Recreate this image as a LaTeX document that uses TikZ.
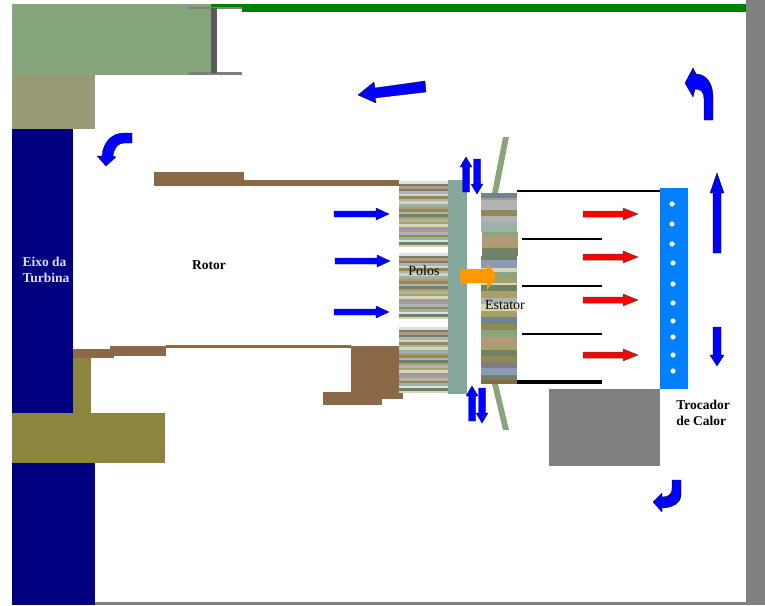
\documentclass[tikz,border=0pt]{standalone}
\usepackage{fontspec}
\setmainfont{Liberation Serif}
\usepackage{xcolor}
\usepackage{tikz}
\definecolor{salasage}{RGB}{133,165,125}
\definecolor{salakhaki}{RGB}{154,154,120}
\definecolor{eixonavy}{RGB}{0,0,128}
\definecolor{mancal}{RGB}{139,133,63}
\definecolor{rotorbrown}{RGB}{139,104,70}
\definecolor{coroa}{RGB}{134,168,156}
\definecolor{trocblue}{RGB}{0,128,255}
\definecolor{carcaca}{RGB}{128,128,128}
\definecolor{aletagreen}{RGB}{138,165,124}
\definecolor{flowblue}{RGB}{0,0,255}
\definecolor{hotred}{RGB}{255,0,0}
\definecolor{fluxo}{RGB}{255,153,0}
\definecolor{sdark}{RGB}{112,130,100}
\definecolor{sgrey}{RGB}{176,178,180}
\definecolor{scream}{RGB}{216,212,184}
\definecolor{solive}{RGB}{142,138,86}
\definecolor{stan}{RGB}{180,152,122}
\definecolor{sslate}{RGB}{112,130,150}
\definecolor{slight}{RGB}{222,226,220}
\definecolor{sblue}{RGB}{138,154,184}
\definecolor{skhaki}{RGB}{168,160,104}
\definecolor{steal}{RGB}{154,178,168}
\definecolor{sgreen}{RGB}{138,166,122}
\tikzset{
  flowarrow/.style={fill=flowblue,draw=black,line width=0.3pt},
  smallflow/.style={fill=flowblue,draw=flowblue!70!black,line width=0.4pt},
  hotarrow/.style={fill=hotred,draw=black!70,line width=0.5pt},
  serifbold/.style={font=\fontsize{13.5}{16.5}\selectfont\bfseries,inner sep=0pt,align=left},
  serifplain/.style={font=\fontsize{14}{16}\selectfont,inner sep=0pt}
}
\begin{document}
\begin{tikzpicture}[x=1pt,y=-1pt]
\useasboundingbox (0,0) rectangle (765,605);
% carcaca
\fill[carcaca] (746,0) rectangle (765,605);
\fill[carcaca] (95,602) rectangle (746,605);
\fill[green!50!black] (188,4) rectangle (242,7);
\fill[green!50!black] (242,4) rectangle (746,12);
\fill[salasage] (12,4) rectangle (211,75);
\fill[salakhaki] (12,75) rectangle (95,129);
\fill[carcaca] (188,7) rectangle (242,9);
\fill[carcaca] (188,72) rectangle (242,75);
\fill[carcaca!70!black] (211,8) rectangle (217,73);
% eixo e mancal
\fill[eixonavy] (12,129) rectangle (73,413);
\fill[mancal] (73,358) rectangle (91,413);
\fill[mancal] (12,413) rectangle (165,463);
\fill[eixonavy] (12,463) rectangle (95,605);
% rotor
\fill[rotorbrown] (154,172) rectangle (244,186);
\fill[rotorbrown] (244,180) rectangle (399,186);
\fill[rotorbrown] (73,349) rectangle (114,358);
\fill[rotorbrown] (110,346) rectangle (166,356);
\fill[rotorbrown] (166,345) rectangle (351,348);
\fill[rotorbrown] (351,346) rectangle (399,392);
\fill[rotorbrown] (323,392) rectangle (382,405);
\fill[rotorbrown] (382,392) rectangle (403,399);
% polos
\foreach \by in {181,253,327}
  \foreach \c [count=\i from 0] in {slight,sdark,stan,sdark,sgrey,scream,solive,sgrey,scream,steal,stan,solive,sgrey,sdark,stan,sgrey,skhaki,scream,sblue,stan,sgrey,solive,steal,slight,sdark,scream}
    \fill[\c] (399,{\by+\i*2.55}) rectangle (449,{\by+(\i+1)*2.55});
\fill[coroa] (448,180) rectangle (467,394);
% aletas
\fill[aletagreen] (503,137) -- (509,137) -- (498,193) -- (492,193) -- cycle;
\fill[aletagreen] (492,384) -- (498,384) -- (509,430) -- (503,430) -- cycle;
% estator
\foreach \a/\b/\c in {193/198/sslate,198/200/stan,200/210/sgrey,210/216/solive,216/222/sgrey,222/232/steal,256/260/sdark,260/268/sblue,268/272/scream,272/279/sgreen,279/283/skhaki,283/285/scream,285/291/sdark,291/298/skhaki,298/304/sgrey,304/311/scream,311/317/skhaki,317/324/sslate,324/330/solive,330/337/sgreen,337/344/stan,344/350/skhaki,350/356/sdark,356/362/solive,362/368/sgrey!70!black,368/375/sblue,375/380/sdark,380/384/rotorbrown}
  \fill[\c] (481,\a) rectangle (517,\b);
\foreach \a/\b/\c in {232/236/sgreen,236/243/stan,243/248/skhaki,248/256/sdark}
  \fill[\c] (482,\a) rectangle (518,\b);
% barras
\draw[line width=2pt] (517,191) -- (660,191);
\draw[line width=2pt] (522,239) -- (602,239);
\draw[line width=1.5pt] (522,286) -- (602,286);
\draw[line width=2pt] (522,334) -- (602,334);
\draw[line width=3.6pt] (517,382) -- (602,382);
% trocador
\fill[carcaca] (549,389) rectangle (660,466);
\fill[trocblue] (660,188) rectangle (688,389);
\foreach \x/\y in {672/204,672/224,672/244,673/263,673/284,673/303,673/321,673/337,673/355,673/371}
  \fill[white] (\x,\y) circle (2.6);
% setas
\foreach \x/\y in {334/214,335/261,334/312}
  \draw[smallflow] (\x,\y-3) -- ++(42,0) -- ++(0,-3) -- ++(13,6) -- ++(-13,6) -- ++(0,-3) -- ++(-42,0) -- cycle;
\foreach \y in {214,257,300,355}
  \draw[hotarrow] (583,\y-3) -- ++(40,0) -- ++(0,-3) -- ++(15,6) -- ++(-15,6) -- ++(0,-3) -- ++(-40,0) -- cycle;
% setas pequenas verticais
\foreach \x/\y in {466/192,472/421}
  \draw[smallflow] (\x-3.5,\y) -- ++(0,-25) -- ++(-2.5,0) -- ++(6,-10) -- ++(6,10) -- ++(-2.5,0) -- ++(0,25) -- cycle;
\foreach \x/\y in {477/159,482/388}
  \draw[smallflow] (\x-3.5,\y) -- ++(0,25) -- ++(-2.5,0) -- ++(6,10) -- ++(6,-10) -- ++(-2.5,0) -- ++(0,-25) -- cycle;
\fill[fluxo] (460,269) -- (487,269) -- (487,263) -- (497,276) -- (487,290) -- (487,283) -- (460,283) -- cycle;
\draw[flowarrow] (713,253) -- (713,193) -- (710,193) -- (717,173) -- (724,193) -- (721,193) -- (721,253) -- cycle;
\draw[flowarrow] (713,327) -- (721,327) -- (721,355) -- (724,355) -- (717,366) -- (710,355) -- (713,355) -- cycle;
\draw[flowarrow] (425,81) -- (426,92) -- (375,98) -- (376,103) -- (358,95) -- (374,82) -- (375,88) -- cycle;
% setas curvas
\draw[flowarrow] (704,120) -- (713,120) -- (713,97) .. controls (713,82) and (705,74) .. (696,74) -- (693,68) -- (685,83) -- (693,97) -- (695,89) .. controls (701,89) and (704,92) .. (704,99) -- cycle;
\draw[flowarrow] (132,133) -- (132,143) -- (124,143) .. controls (118,143) and (114,148) .. (113,156) -- (116,157) -- (106,166) -- (97,156) -- (102,156) .. controls (103,142) and (112,133) .. (124,133) -- cycle;
\draw[flowarrow] (672,480) -- (681,480) -- (681,495) .. controls (681,503) and (672,508) .. (662,508) -- (662,512) -- (653,502) -- (662,493) -- (662,497) .. controls (668,497) and (672,495) .. (672,488) -- cycle;
% textos
\node[serifbold,text=white!88!blue] (eixo) at (46,270) {Eixo da\\Turbina};
\node[serifbold] (rotor) at (209,265) {Rotor};
\node[serifplain] (polos) at (424,271) {Polos};
\node[serifplain] (estator) at (505,305) {Estator};
\node[serifbold] (trocador) at (703,413) {Trocador\\de Calor};
\end{tikzpicture}
\end{document}
